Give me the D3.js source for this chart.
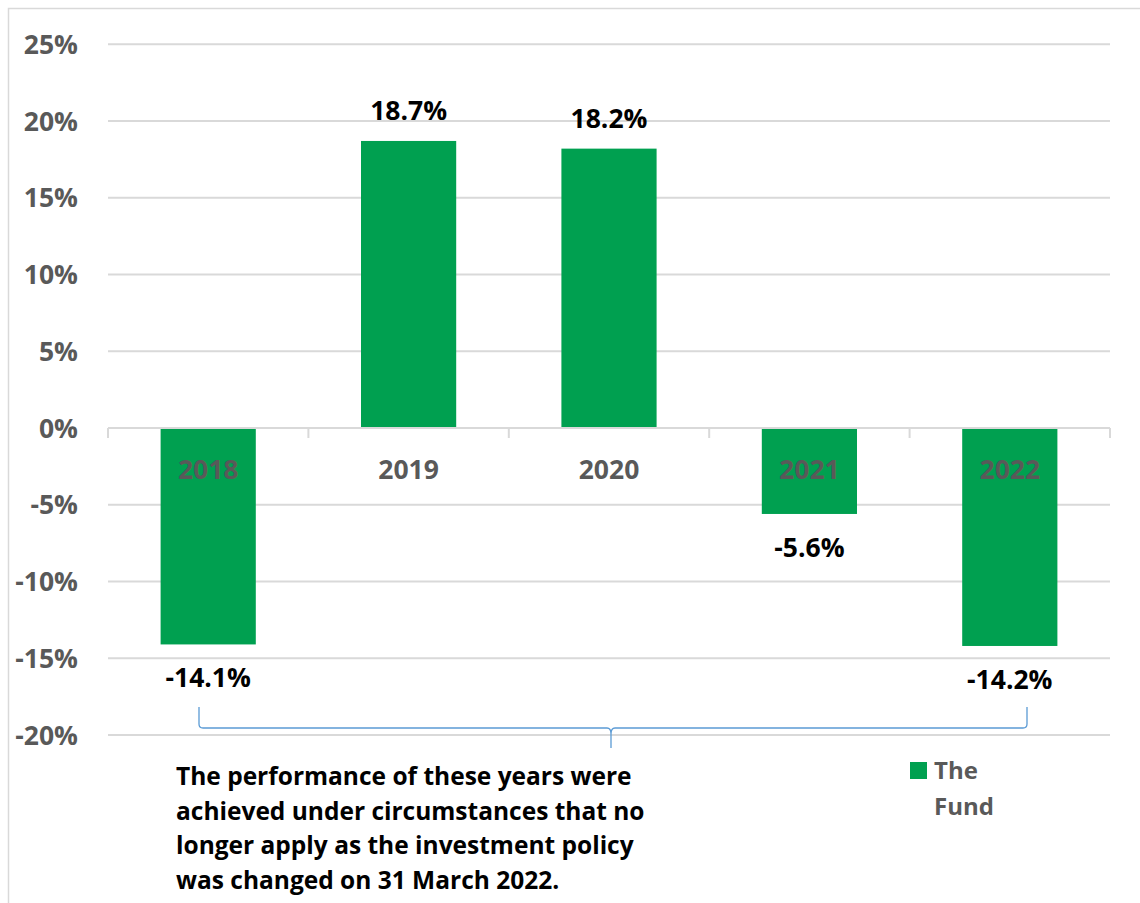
<!DOCTYPE html>
<html>
<head>
<meta charset="utf-8">
<script src="https://cdnjs.cloudflare.com/ajax/libs/d3/7.8.5/d3.min.js"></script>
<style>
  body { margin: 0; background: #fff; }
  svg text { font-family: "Open Sans", Lato, sans-serif; font-weight: bold; }
</style>
</head>
<body>
<div id="chart"></div>
<script>
// data
var years = ["2018", "2019", "2020", "2021", "2022"];
var returns = [-14.1, 18.7, 18.2, -5.6, -14.2];
var yTicks = [-20, -15, -10, -5, 0, 5, 10, 15, 20, 25];
var seriesName = "The Fund";
var noteLines = [
  "The performance of these years were",
  "achieved under circumstances that no",
  "longer apply as the investment policy",
  "was changed on 31 March 2022."
];

var W = 1140, H = 903;
var green = "#00A050", grey = "#595959", grid = "#d9d9d9";

var svg = d3.select("#chart").append("svg")
    .attr("width", W).attr("height", H);

// outer chart border
svg.append("rect")
    .attr("x", 8.5).attr("y", 8.5)
    .attr("width", W + 10).attr("height", H + 10)
    .attr("fill", "none").attr("stroke", grid).attr("stroke-width", 1.5);

var x = d3.scaleBand().domain(years).range([108, 1110]).paddingInner(0.525).paddingOuter(0.2625);
var band = d3.scaleBand().domain(years).range([108, 1110]);
var y = d3.scaleLinear().domain([-20, 25]).range([735, 44.25]);

// gridlines
svg.append("g").selectAll("line")
    .data(yTicks).enter().append("line")
    .attr("x1", 108).attr("x2", 1110)
    .attr("y1", function(d) { return y(d); })
    .attr("y2", function(d) { return y(d); })
    .attr("stroke", grid).attr("stroke-width", 2);

// y axis labels
svg.append("g").selectAll("text")
    .data(yTicks).enter().append("text")
    .attr("x", 78)
    .attr("y", function(d) { return y(d); })
    .attr("dy", "0.36em")
    .attr("text-anchor", "end")
    .attr("font-size", 26.5)
    .attr("fill", grey)
    .text(function(d) { return d + "%"; });

// bars
svg.append("g").selectAll("rect")
    .data(returns).enter().append("rect")
    .attr("x", function(d, i) { return x(years[i]); })
    .attr("width", x.bandwidth())
    .attr("y", function(d) { return y(Math.max(0, d)); })
    .attr("height", function(d) { return Math.abs(y(d) - y(0)); })
    .attr("fill", green);

// category axis at zero
var axis = svg.append("g").attr("transform", "translate(0," + y(0) + ")");
axis.append("line").attr("x1", 108).attr("x2", 1110)
    .attr("stroke", grid).attr("stroke-width", 2);
axis.selectAll("line.tick")
    .data(years.concat(["end"])).enter().append("line")
    .attr("class", "tick")
    .attr("x1", function(d, i) { return 108 + i * band.bandwidth(); })
    .attr("x2", function(d, i) { return 108 + i * band.bandwidth(); })
    .attr("y1", 0).attr("y2", 10)
    .attr("stroke", grid).attr("stroke-width", 2);
axis.selectAll("text")
    .data(years).enter().append("text")
    .attr("x", function(d) { return x(d) + x.bandwidth() / 2; })
    .attr("y", 41)
    .attr("dy", "0.36em")
    .attr("text-anchor", "middle")
    .attr("font-size", 26.5)
    .attr("fill", grey)
    .text(function(d) { return d; });

// value labels
svg.append("g").selectAll("text")
    .data(returns).enter().append("text")
    .attr("x", function(d, i) { return x(years[i]) + x.bandwidth() / 2; })
    .attr("y", function(d) { return d > 0 ? y(d) - 21 : y(d) + 43; })
    .attr("text-anchor", "middle")
    .attr("font-size", 26.5)
    .attr("fill", "#000")
    .text(function(d) { return d.toFixed(1) + "%"; });

// brace under 2018..2022
var bl = 199, br = 1027, bm = 611, bTop = 707, bMid = 728;
svg.append("path")
    .attr("d", "M" + bl + "," + bTop + " L" + bl + "," + (bMid - 4) +
        " Q" + bl + "," + bMid + " " + (bl + 4) + "," + bMid +
        " L" + (bm - 4) + "," + bMid +
        " Q" + bm + "," + bMid + " " + bm + "," + (bMid + 6) +
        " L" + bm + "," + (bMid + 20) +
        " M" + bm + "," + (bMid + 6) +
        " Q" + bm + "," + bMid + " " + (bm + 4) + "," + bMid +
        " L" + (br - 4) + "," + bMid +
        " Q" + br + "," + bMid + " " + br + "," + (bMid - 4) +
        " L" + br + "," + bTop)
    .attr("fill", "none").attr("stroke", "#5b9bd5").attr("stroke-width", 1.3);

// note
svg.append("g").selectAll("text")
    .data(noteLines).enter().append("text")
    .attr("x", 176)
    .attr("y", function(d, i) { return 785 + i * 34.5; })
    .attr("font-size", 24.5)
    .attr("fill", "#000")
    .text(function(d) { return d; });

// legend
svg.append("rect").attr("x", 910).attr("y", 762).attr("width", 17).attr("height", 17).attr("fill", green);
svg.append("g").selectAll("text")
    .data(seriesName.split(" ")).enter().append("text")
    .attr("x", 934)
    .attr("y", function(d, i) { return 779 + i * 36; })
    .attr("font-size", 24)
    .attr("fill", grey)
    .text(function(d) { return d; });
</script>
</body>
</html>
